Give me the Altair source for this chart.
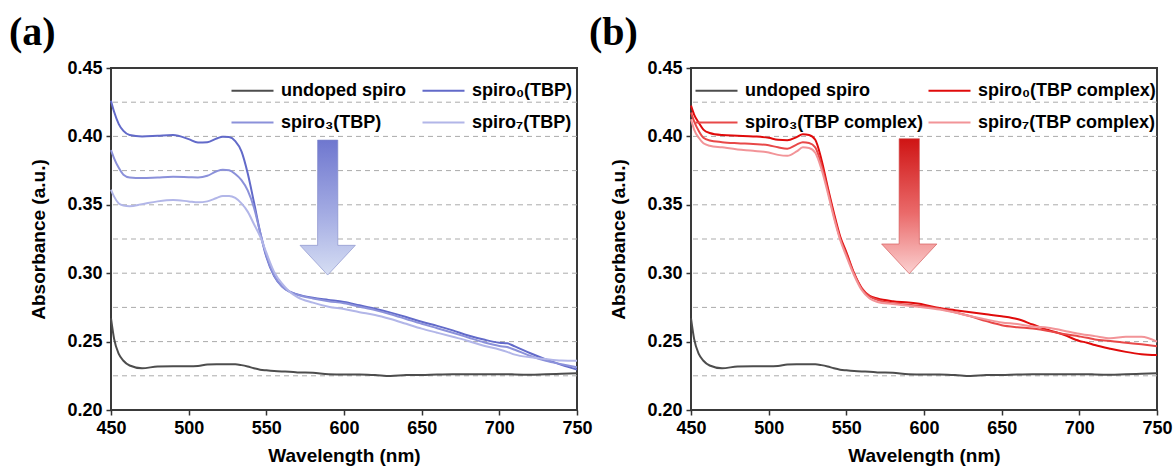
import altair as alt
import pandas as pd

# ---------------- data ----------------
wl = [450, 452, 455, 458, 462, 470, 480, 490, 500, 506, 512, 518, 522, 526, 530,
      534, 538, 542, 546, 550, 555, 560, 565, 570, 580, 590, 600, 610, 620, 630,
      640, 650, 660, 670, 680, 690, 700, 705, 710, 720, 730, 740, 750]

undoped = [0.267, 0.252, 0.241, 0.236, 0.2325, 0.2305, 0.2318, 0.232, 0.232, 0.2322,
           0.2333, 0.2334, 0.2334, 0.2334, 0.2334, 0.2328, 0.2318, 0.2305, 0.2295, 0.229,
           0.2285, 0.2282, 0.228, 0.2275, 0.2272, 0.2262, 0.226, 0.226, 0.2255, 0.2248,
           0.2255, 0.2256, 0.226, 0.2262, 0.2262, 0.2262, 0.2262, 0.2262, 0.226, 0.2258,
           0.2262, 0.2265, 0.2268]

a_s0 = [0.426, 0.418, 0.409, 0.404, 0.401, 0.400, 0.4005, 0.401, 0.398, 0.3955,
        0.3958, 0.3985, 0.3998, 0.3995, 0.3965, 0.389, 0.373, 0.352, 0.330, 0.312,
        0.298, 0.2905, 0.2865, 0.2845, 0.282, 0.2805, 0.279, 0.2765, 0.274, 0.2712,
        0.268, 0.2645, 0.2615, 0.2582, 0.2545, 0.2515, 0.2492, 0.2488, 0.2465, 0.2415,
        0.237, 0.233, 0.2295]
a_s3 = [0.390, 0.384, 0.377, 0.372, 0.370, 0.3695, 0.370, 0.3705, 0.3702, 0.370,
        0.3712, 0.3745, 0.3757, 0.3752, 0.3725, 0.368, 0.3605, 0.348, 0.330, 0.313,
        0.2985, 0.2905, 0.2865, 0.2842, 0.2815, 0.2795, 0.278, 0.2755, 0.273, 0.270,
        0.2665, 0.263, 0.2598, 0.2565, 0.253, 0.2495, 0.2468, 0.246, 0.244, 0.2395,
        0.236, 0.2335, 0.2312]
a_s7 = [0.361, 0.356, 0.351, 0.3495, 0.349, 0.3505, 0.3525, 0.3535, 0.3525, 0.3518,
        0.3525, 0.355, 0.3565, 0.3565, 0.355, 0.351, 0.345, 0.336, 0.327, 0.315,
        0.301, 0.2925, 0.2865, 0.2825, 0.2785, 0.2755, 0.2738, 0.2715, 0.2695, 0.2665,
        0.263, 0.2595, 0.2565, 0.2535, 0.2505, 0.247, 0.2442, 0.2425, 0.2405, 0.2385,
        0.2372, 0.2362, 0.236]

b_s0 = [0.4225, 0.416, 0.410, 0.405, 0.4025, 0.401, 0.4005, 0.400, 0.399, 0.3975,
        0.3972, 0.3995, 0.4015, 0.401, 0.3975, 0.383, 0.363, 0.344, 0.327, 0.3155,
        0.300, 0.289, 0.2835, 0.2815, 0.2795, 0.2785, 0.277, 0.2745, 0.273, 0.2715,
        0.270, 0.2685, 0.2665, 0.2625, 0.2585, 0.255, 0.2505, 0.2492, 0.2475, 0.2448,
        0.2425, 0.2408, 0.2402]
b_s3 = [0.4175, 0.411, 0.404, 0.399, 0.397, 0.3958, 0.395, 0.3944, 0.3935, 0.392,
        0.391, 0.394, 0.3957, 0.3952, 0.392, 0.379, 0.361, 0.342, 0.3255, 0.314,
        0.2995, 0.2885, 0.283, 0.2805, 0.278, 0.277, 0.2758, 0.274, 0.2715, 0.2685,
        0.265, 0.262, 0.2605, 0.2595, 0.2578, 0.2555, 0.2538, 0.2528, 0.2515, 0.2505,
        0.2492, 0.248, 0.2466]
b_s7 = [0.4125, 0.405, 0.399, 0.395, 0.3932, 0.392, 0.3905, 0.3895, 0.3882, 0.3865,
        0.3858, 0.389, 0.392, 0.3915, 0.388, 0.376, 0.359, 0.3405, 0.3245, 0.3125,
        0.2985, 0.2875, 0.2815, 0.279, 0.2775, 0.2762, 0.275, 0.2735, 0.2712, 0.2685,
        0.2662, 0.264, 0.2628, 0.261, 0.2602, 0.258, 0.2558, 0.2548, 0.254, 0.2525,
        0.2535, 0.2535, 0.250]

series_a = ["undoped spiro", "spiro₀(TBP)", "spiro₃(TBP)", "spiro₇(TBP)"]
series_b = ["undoped spiro", "spiro₀(TBP complex)", "spiro₃(TBP complex)", "spiro₇(TBP complex)"]
colors_a = ["#4d4d4d", "#626ac9", "#8b91da", "#b2b6e8"]
colors_b = ["#4d4d4d", "#e00b0b", "#e84848", "#f29498"]
# legend fills column by column: this order puts undoped|spiro0 on row 1, spiro3|spiro7 on row 2
legend_order = [0, 2, 1, 3]

x_ticks = [450, 475, 500, 525, 550, 575, 600, 625, 650, 675, 700, 725, 750]
y_ticks = [0.20, 0.25, 0.30, 0.35, 0.40, 0.45]
grid_y = [0.225, 0.25, 0.275, 0.30, 0.325, 0.35, 0.375, 0.40, 0.425]

# arrow annotation position (wavelength, absorbance at arrow centre)
arrow_a = [589.5, 0.348]
arrow_b = [590.5, 0.349]
arrow_grad_a = ["#6f77cf", "#a4ace3", "#d6def3"]
arrow_grad_b = ["#cf1414", "#ea6a6a", "#fbd0d0"]

ARROW = "M -0.15 -1 L 0.15 -1 L 0.15 0.56 L 0.41 0.56 L 0 1 L -0.41 0.56 L -0.15 0.56 Z"

W, H = 466, 342
FONT = "Liberation Sans"


def panel(series, curves, colors, title, leg_x, col_pad, arrow, grad, edge):
    rows = []
    for name, vals in zip(series, curves):
        for w, v in zip(wl, vals):
            rows.append({"wl": w, "abs": v, "series": name})
    df = pd.DataFrame(rows)
    dom = [series[i] for i in legend_order]
    rng = [colors[i] for i in legend_order]

    xscale = alt.Scale(domain=[450, 750], nice=False, zero=False)
    yscale = alt.Scale(domain=[0.20, 0.45], nice=False, zero=False)

    grid = alt.Chart(pd.DataFrame({"g": grid_y})).mark_rule(
        strokeDash=[5, 4], color="#ababab", strokeWidth=1
    ).encode(y=alt.Y("g:Q", scale=yscale))

    lines = alt.Chart(df).mark_line(strokeWidth=2, interpolate="monotone").encode(
        x=alt.X("wl:Q", scale=xscale,
                axis=alt.Axis(values=x_ticks, title="Wavelength (nm)", labelFlush=False,
                              labelExpr="datum.value % 50 == 0 ? format(datum.value, 'd') : ''",
                              grid=False, tickSize=5, labelPadding=4, titlePadding=9)),
        y=alt.Y("abs:Q", scale=yscale,
                axis=alt.Axis(values=y_ticks, title="Absorbance (a.u.)", format=".2f",
                              labelFlush=False,
                              grid=False, tickSize=5, labelPadding=4, titlePadding=18)),
        color=alt.Color("series:N", sort=dom,
                        scale=alt.Scale(domain=dom, range=rng),
                        legend=alt.Legend(title=None, orient="none", legendX=leg_x, legendY=0,
                                          columns=2, columnPadding=col_pad, rowPadding=0,
                                          symbolType="stroke", symbolSize=1764,
                                          symbolStrokeWidth=2.2, labelFont=FONT,
                                          labelFontSize=18, labelFontWeight="bold",
                                          labelColor="#000", labelOffset=6, padding=0,
                                          labelLimit=400)),
        order=alt.Order("wl:Q"),
    )

    arr_df = pd.DataFrame({"x": [arrow[0]], "y": [arrow[1]]})
    gradient = alt.Gradient(
        gradient="linear", x1=0, y1=0, x2=0, y2=1,
        stops=[alt.GradientStop(color=grad[0], offset=0),
               alt.GradientStop(color=grad[1], offset=0.55),
               alt.GradientStop(color=grad[2], offset=1)])
    arrow_mark = alt.Chart(arr_df).mark_point(
        shape=ARROW, size=18225, filled=True, fill=gradient, opacity=1,
        stroke=edge, strokeWidth=1, strokeOpacity=0.6
    ).encode(x=alt.X("x:Q", scale=xscale), y=alt.Y("y:Q", scale=yscale))

    return alt.layer(grid, lines, arrow_mark).properties(
        width=W, height=H,
        title=alt.TitleParams(text=title, anchor="start", frame="group", dx=-102,
                              font="Liberation Serif", fontSize=40, fontWeight="bold",
                              color="#000", offset=-34, baseline="bottom"),
    )


pa = panel(series_a, [undoped, a_s0, a_s3, a_s7], colors_a, "(a)", 119, 12,
           arrow_a, arrow_grad_a, "#8088c8")
pb = panel(series_b, [undoped, b_s0, b_s3, b_s7], colors_b, "(b)", 3, 0,
           arrow_b, arrow_grad_b, "#d05050")

chart = alt.hconcat(pa, pb, spacing=-6).resolve_scale(
    color="independent", x="independent", y="independent"
).configure_view(stroke="#3a3a3a", strokeWidth=2).configure_axis(
    labelFont=FONT, labelFontWeight="bold", labelFontSize=18, labelColor="#000",
    titleFont=FONT, titleFontWeight="bold", titleFontSize=19, titleColor="#000",
    tickColor="#333", tickWidth=1.5, domain=False
).properties(padding={"left": 8, "top": 12, "right": 2, "bottom": 5}, background="white")

chart.save("out.html", embed_options={"renderer": "svg", "actions": False})
